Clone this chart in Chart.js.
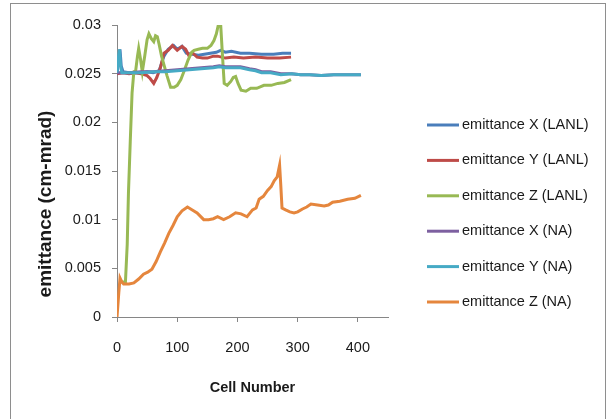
<!DOCTYPE html>
<html>
<head>
<meta charset="utf-8">
<script src="https://cdn.jsdelivr.net/npm/chart.js@4.4.0/dist/chart.umd.min.js"></script>
<style>
  html, body { margin: 0; padding: 0; background: #fff; }
</style>
</head>
<body>
<canvas id="emitChart" width="607" height="419"></canvas>
<script>
// series: [cell number, emittance]
var xLanl = [[0, 0.0250], [3, 0.0262], [5, 0.0275], [7, 0.0258], [10, 0.0252], [20, 0.0251], [30, 0.0251], [40, 0.0251], [50, 0.0252], [60, 0.0251], [70, 0.0253], [78, 0.0268], [85, 0.0275], [94, 0.0279], [100, 0.0275], [108, 0.0278], [115, 0.0271], [125, 0.0270], [135, 0.0269], [145, 0.0270], [155, 0.0271], [165, 0.0272], [172, 0.0274], [180, 0.0272], [190, 0.0273], [205, 0.0271], [220, 0.0271], [240, 0.0270], [260, 0.0270], [275, 0.0271], [289, 0.0271]];
var yLanl = [[0, 0.0250], [10, 0.0251], [20, 0.0250], [30, 0.0251], [40, 0.0250], [50, 0.0248], [55, 0.0245], [61, 0.0240], [66, 0.0246], [72, 0.0256], [78, 0.0271], [85, 0.0274], [92, 0.0279], [100, 0.0274], [108, 0.0278], [114, 0.0275], [119, 0.0269], [126, 0.0271], [133, 0.0267], [142, 0.0266], [150, 0.0266], [160, 0.0268], [167, 0.0268], [180, 0.0266], [194, 0.0267], [210, 0.0266], [230, 0.0267], [250, 0.0266], [270, 0.0266], [289, 0.0267]];
var zLanl = [[5, 0.0036], [14, 0.0036], [17, 0.0075], [19, 0.0127], [22, 0.0180], [25, 0.0230], [28, 0.0252], [31, 0.0253], [34, 0.0268], [36, 0.0276], [39, 0.0265], [42, 0.0252], [46, 0.0268], [50, 0.0285], [53, 0.0291], [57, 0.0286], [61, 0.0283], [64, 0.0289], [67, 0.0288], [70, 0.0280], [74, 0.0268], [78, 0.0259], [83, 0.0248], [89, 0.0236], [95, 0.0236], [100, 0.0238], [106, 0.0244], [111, 0.0252], [118, 0.0264], [124, 0.0272], [128, 0.0274], [135, 0.0275], [142, 0.0276], [150, 0.0276], [156, 0.0279], [161, 0.0284], [165, 0.0291], [169, 0.0302], [172, 0.0302], [175, 0.0270], [178, 0.0240], [183, 0.0238], [189, 0.0242], [193, 0.0246], [197, 0.0247], [201, 0.0240], [206, 0.0233], [214, 0.0232], [222, 0.0235], [232, 0.0235], [244, 0.0238], [256, 0.0238], [267, 0.0240], [278, 0.0241], [289, 0.0244]];
var xNa = [[0, 0.0251], [10, 0.0251], [20, 0.0251], [40, 0.0252], [60, 0.0252], [80, 0.0253], [100, 0.0254], [120, 0.0255], [140, 0.0256], [160, 0.0257], [170, 0.0258], [180, 0.0257], [195, 0.0257], [205, 0.0257], [220, 0.0255], [230, 0.0254], [240, 0.0252], [255, 0.0252], [272, 0.0250], [290, 0.0250], [305, 0.0249], [320, 0.0249], [339, 0.0248], [360, 0.0249], [380, 0.0249], [405, 0.0249]];
var yNa = [[0, 0.0251], [2, 0.0265], [4, 0.0275], [6, 0.0258], [8, 0.0251], [12, 0.0251], [20, 0.0251], [40, 0.0251], [60, 0.0252], [80, 0.0252], [100, 0.0253], [120, 0.0254], [140, 0.0255], [160, 0.0256], [170, 0.0257], [180, 0.0256], [195, 0.0256], [205, 0.0256], [220, 0.0254], [230, 0.0253], [240, 0.0251], [255, 0.0251], [272, 0.0249], [290, 0.0250], [305, 0.0249], [320, 0.0249], [339, 0.0248], [360, 0.0249], [380, 0.0249], [405, 0.0249]];
var zNa = [[0, 0], [3, 0.0025], [5, 0.0040], [8, 0.0036], [11, 0.0034], [20, 0.0034], [28, 0.0035], [36, 0.0039], [44, 0.0044], [51, 0.0046], [58, 0.0049], [65, 0.0057], [72, 0.0067], [79, 0.0076], [86, 0.0086], [93, 0.0094], [100, 0.0103], [108, 0.0109], [117, 0.0113], [125, 0.0110], [133, 0.0107], [144, 0.0100], [152, 0.0100], [160, 0.0101], [167, 0.0103], [177, 0.0100], [187, 0.0103], [197, 0.0107], [206, 0.0106], [216, 0.0103], [225, 0.0110], [231, 0.0112], [236, 0.0121], [243, 0.0124], [250, 0.0130], [256, 0.0134], [261, 0.0140], [266, 0.0144], [270, 0.0156], [272, 0.0135], [274, 0.0112], [280, 0.0110], [287, 0.0108], [294, 0.0107], [300, 0.0108], [308, 0.0111], [315, 0.0113], [322, 0.0116], [333, 0.0115], [344, 0.0114], [351, 0.0115], [358, 0.0118], [370, 0.0119], [383, 0.0121], [395, 0.0122], [405, 0.0125]];

var seriesNames = ['emittance X (LANL)', 'emittance Y (LANL)', 'emittance Z (LANL)', 'emittance X (NA)', 'emittance Y (NA)', 'emittance Z (NA)'];
var seriesColors = ['#4a7ebb', '#be4b48', '#98b954', '#7d60a0', '#46aac5', '#e5863d'];
var xTicks = [0, 100, 200, 300, 400];
var yTicks = [0, 0.005, 0.01, 0.015, 0.02, 0.025, 0.03];
var yTickLabels = ['0', '0.005', '0.01', '0.015', '0.02', '0.025', '0.03'];

var FONT = "'Liberation Sans', Arial, sans-serif";

function toPoints(arr) {
  return arr.map(function (p) { return { x: p[0], y: p[1] }; });
}

var allSeries = [xLanl, yLanl, zLanl, xNa, yNa, zNa];
var datasets = allSeries.map(function (s, i) {
  return {
    label: seriesNames[i],
    data: toPoints(s),
    borderColor: seriesColors[i],
    backgroundColor: seriesColors[i],
    borderWidth: 3,
    pointRadius: 0,
    tension: 0,
    order: allSeries.length - i // later series on top, like the original
  };
});

// outer frame + white background
var framePlugin = {
  id: 'frame',
  beforeDraw: function (chart) {
    var ctx = chart.ctx;
    ctx.save();
    ctx.fillStyle = '#fff';
    ctx.fillRect(0, 0, chart.width, chart.height);
    ctx.strokeStyle = '#8e8e8e';
    ctx.lineWidth = 1;
    ctx.strokeRect(10.5, 3.5, 595, 440);
    ctx.restore();
  }
};

// y title sits lower than the axis middle in the original
var yTitlePlugin = {
  id: 'yTitle',
  afterDraw: function (chart) {
    var ctx = chart.ctx;
    ctx.save();
    ctx.translate(46, 204);
    ctx.rotate(-Math.PI / 2);
    ctx.font = 'bold 19px ' + FONT;
    ctx.fillStyle = '#1a1a1a';
    ctx.textAlign = 'center';
    ctx.textBaseline = 'middle';
    ctx.fillText('emittance (cm-mrad)', 0, 0);
    ctx.restore();
  }
};

var legendPlugin = {
  id: 'sideLegend',
  afterDraw: function (chart) {
    var ctx = chart.ctx;
    ctx.save();
    ctx.font = '14.5px ' + FONT;
    ctx.textBaseline = 'middle';
    ctx.fillStyle = '#1a1a1a';
    chart.data.datasets.forEach(function (ds, i) {
      var y = 125 + i * 35.4;
      ctx.strokeStyle = ds.borderColor;
      ctx.lineWidth = 3;
      ctx.beginPath();
      ctx.moveTo(427, y);
      ctx.lineTo(459, y);
      ctx.stroke();
      ctx.fillText(ds.label, 462, y);
    });
    ctx.restore();
  }
};

var ctx = document.getElementById('emitChart');
var emitChart = new Chart(ctx, {
  type: 'line',
  data: { datasets: datasets },
  plugins: [framePlugin, yTitlePlugin, legendPlugin],
  options: {
    responsive: false,
    animation: false,
    layout: {
      padding: { left: 0, top: 25, right: 219, bottom: 0 }
    },
    plugins: {
      legend: { display: false },
      tooltip: { enabled: false }
    },
    scales: {
      x: {
        type: 'linear',
        min: 0,
        max: 450,
        afterBuildTicks: function (scale) {
          scale.ticks = xTicks.map(function (v) { return { value: v }; });
        },
        afterFit: function (scale) { scale.height = 102; },
        grid: { drawOnChartArea: false, drawTicks: true, tickLength: 5, color: '#868686' },
        border: { color: '#868686' },
        ticks: {
          padding: 17,
          maxRotation: 0,
          color: '#1a1a1a',
          font: { family: FONT, size: 14.5 }
        },
        title: {
          display: true,
          text: 'Cell Number',
          color: '#1a1a1a',
          font: { family: FONT, size: 14.5, weight: 'bold' },
          padding: { top: 0, bottom: 22 }
        }
      },
      y: {
        min: 0,
        max: 0.03,
        afterBuildTicks: function (scale) {
          scale.ticks = yTicks.map(function (v) { return { value: v }; });
        },
        afterFit: function (scale) { scale.width = 117; },
        grid: { drawOnChartArea: false, drawTicks: true, tickLength: 5, color: '#868686' },
        border: { color: '#868686' },
        ticks: {
          padding: 11,
          color: '#1a1a1a',
          font: { family: FONT, size: 14.5 },
          callback: function (v, i) { return yTickLabels[i]; }
        }
      }
    }
  }
});
</script>
</body>
</html>
